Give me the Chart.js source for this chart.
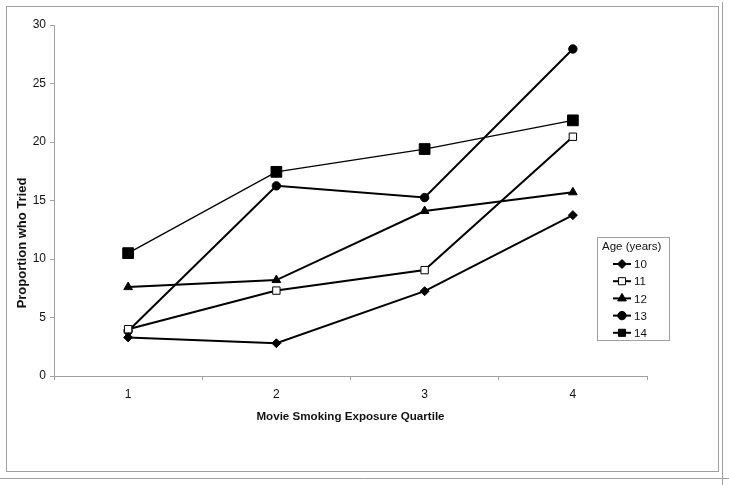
<!DOCTYPE html>
<html>
<head>
<meta charset="utf-8">
<script src="https://cdn.jsdelivr.net/npm/chart.js@4"></script>
<style>
  html, body { margin: 0; padding: 0; background: #fff; }
  #wrap { position: relative; width: 729px; height: 485px; }
</style>
</head>
<body>
<div id="wrap"><canvas id="chart" width="729" height="485"></canvas></div>
<script>
// ==========================================
// DATA
// ==========================================
const quartiles = ['1', '2', '3', '4'];
const ageLabels = ['10', '11', '12', '13', '14'];
const age10 = [3.3, 2.8, 7.25, 13.75];
const age11 = [4.0, 7.3, 9.05, 20.45];
const age12 = [7.6, 8.2, 14.1, 15.7];
const age13 = [3.85, 16.25, 15.25, 27.95];
const age14 = [10.5, 17.45, 19.4, 21.85];
const yTicks = [0, 5, 10, 15, 20, 25, 30];

const FONT = 'Arial, "Liberation Sans", sans-serif';
const GRAY = '#a0a0a0';

// marker style for each age line
const markers = [
    { style: 'rectRot', radius: 4.5, fill: '#000', width: 2 },
    { style: 'rect', radius: 5.2, fill: '#fff', width: 2 },
    { style: 'triangle', radius: 5, fill: '#000', width: 2 },
    { style: 'circle', radius: 4.2, fill: '#000', width: 2 },
    { style: 'rect', radius: 7.6, fill: '#000', width: 1.3 }
];

const seriesList = [age10, age11, age12, age13, age14];

const datasets = seriesList.map((vals, i) => ({
    label: ageLabels[i],
    data: vals,
    borderColor: '#000',
    borderWidth: markers[i].width,
    pointStyle: markers[i].style,
    pointRadius: markers[i].radius,
    pointBackgroundColor: markers[i].fill,
    pointBorderColor: '#000',
    pointBorderWidth: 1,
    tension: 0,
    fill: false
}));

// ==========================================
// PLUGINS
// ==========================================

// grey frame around the whole picture
const framePlugin = {
    id: 'frame',
    beforeDraw(chart) {
        const ctx = chart.ctx;
        ctx.save();
        ctx.strokeStyle = GRAY;
        ctx.lineWidth = 1;
        ctx.strokeRect(6.5, 6.5, 712, 465);
        ctx.beginPath();
        ctx.moveTo(722.5, 2);
        ctx.lineTo(722.5, 485);
        ctx.moveTo(0, 478.5);
        ctx.lineTo(729, 478.5);
        ctx.stroke();
        ctx.restore();
    }
};

// y title sits lower than the middle of the axis in the original
const yTitlePlugin = {
    id: 'yTitle',
    afterDraw(chart) {
        const ctx = chart.ctx;
        ctx.save();
        ctx.translate(22, 243);
        ctx.rotate(-Math.PI / 2);
        ctx.fillStyle = '#111';
        ctx.font = 'bold 13px ' + FONT;
        ctx.textAlign = 'center';
        ctx.textBaseline = 'middle';
        ctx.fillText('Proportion who Tried', 0, 0);
        ctx.restore();
    }
};

// boxed legend with title, drawn from the datasets
const legendBoxPlugin = {
    id: 'legendBox',
    afterDraw(chart) {
        const ctx = chart.ctx;
        const x0 = 597, y0 = 237, w = 72, h = 103;
        ctx.save();
        ctx.fillStyle = '#fff';
        ctx.fillRect(x0, y0, w, h);
        ctx.strokeStyle = GRAY;
        ctx.lineWidth = 1;
        ctx.strokeRect(x0 + 0.5, y0 + 0.5, w, h);
        ctx.fillStyle = '#111';
        ctx.font = '11.5px ' + FONT;
        ctx.textBaseline = 'middle';
        ctx.textAlign = 'left';
        ctx.fillText('Age (years)', x0 + 5, y0 + 10);
        chart.data.datasets.forEach((ds, i) => {
            const cy = y0 + 27 + i * 17.2;
            const cx = x0 + 25;
            ctx.strokeStyle = '#000';
            ctx.lineWidth = 2;
            ctx.beginPath();
            ctx.moveTo(cx - 9, cy);
            ctx.lineTo(cx + 9, cy);
            ctx.stroke();
            ctx.fillStyle = ds.pointBackgroundColor;
            ctx.strokeStyle = '#000';
            ctx.lineWidth = 1;
            Chart.helpers.drawPoint(ctx, {
                pointStyle: ds.pointStyle,
                radius: Math.min(ds.pointRadius, 5),
                borderWidth: 1,
                rotation: 0
            }, cx, cy);
            ctx.fillStyle = '#111';
            ctx.fillText(ds.label, cx + 12, cy + 1);
        });
        ctx.restore();
    }
};

// ==========================================
// CHART
// ==========================================
new Chart(document.getElementById('chart').getContext('2d'), {
    type: 'line',
    data: { labels: quartiles, datasets: datasets },
    plugins: [framePlugin, yTitlePlugin, legendBoxPlugin],
    options: {
        responsive: false,
        animation: false,
        layout: { padding: { left: 15, right: 82, top: 25, bottom: 57 } },
        plugins: {
            legend: { display: false },
            tooltip: { enabled: false }
        },
        scales: {
            x: {
                offset: true,
                grid: {
                    offset: true,
                    drawOnChartArea: false,
                    drawTicks: true,
                    tickLength: 4,
                    color: GRAY
                },
                border: { color: GRAY, width: 1 },
                ticks: { color: '#111', font: { family: FONT, size: 12 }, padding: 7 },
                title: {
                    display: true,
                    text: 'Movie Smoking Exposure Quartile',
                    color: '#111',
                    font: { family: FONT, size: 11.6, weight: 'bold' },
                    padding: { top: 6 }
                },
                afterFit(scale) { scale.height = 52; }
            },
            y: {
                min: 0,
                max: 30,
                afterBuildTicks(scale) { scale.ticks = yTicks.map(v => ({ value: v })); },
                grid: {
                    drawOnChartArea: false,
                    drawTicks: true,
                    tickLength: 4,
                    color: GRAY
                },
                border: { color: GRAY, width: 1 },
                ticks: { color: '#111', font: { family: FONT, size: 12 }, padding: 4 },
                afterFit(scale) { scale.width = 39; }
            }
        }
    }
});
</script>
</body>
</html>
